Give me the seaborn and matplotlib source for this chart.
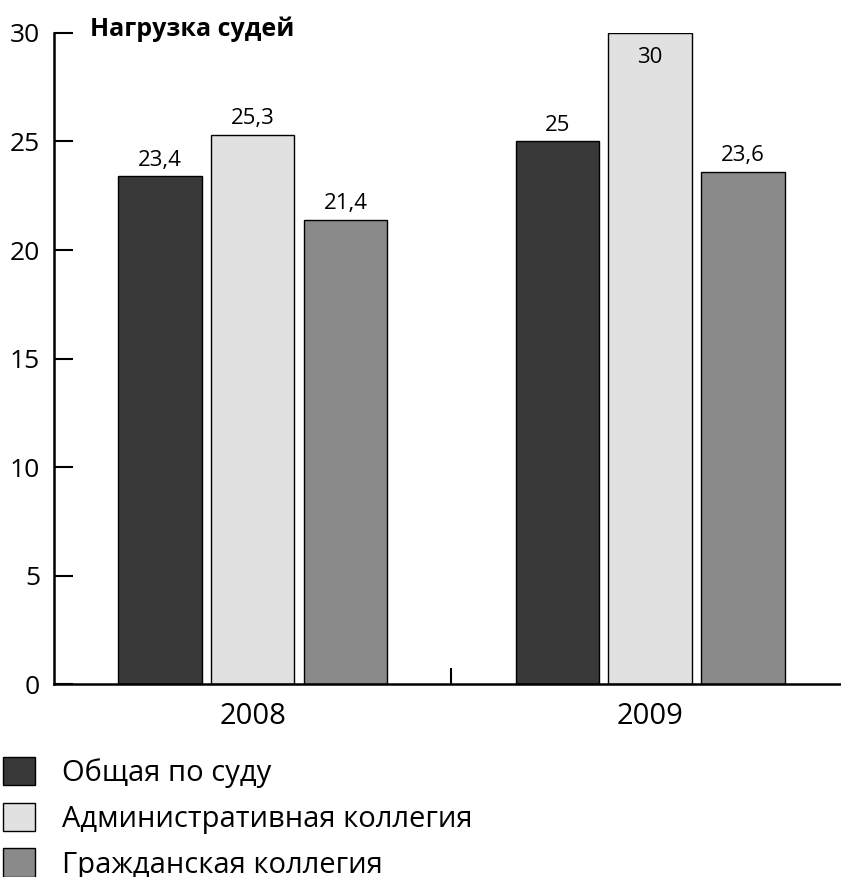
import pandas as pd
import seaborn as sns
from matplotlib import pyplot as plt
from matplotlib.ticker import FixedLocator

years = ["2008", "2009"]
series = ["Общая по суду", "Административная коллегия", "Гражданская коллегия"]
general = [23.4, 25]
admin = [25.3, 30]
civil = [21.4, 23.6]
colors = ["#383838", "#e1e1e1", "#8a8a8a"]

rows = []
for name, vals in zip(series, [general, admin, civil]):
    for y, v in zip(years, vals):
        rows.append({"year": y, "series": name, "value": v})
df = pd.DataFrame(rows)

sns.set_style("white")
plt.rcParams["font.family"] = ["Open Sans", "DejaVu Sans"]
plt.rcParams["text.color"] = "black"

fig = plt.figure(figsize=(8.41, 8.77), dpi=100)
ax = fig.add_axes([0.0642, 0.22, 0.9358, 0.7424])

sns.barplot(data=df, x="year", y="value", hue="series", hue_order=series,
            palette=colors, width=0.70, gap=0.1, edgecolor="black",
            linewidth=1, ax=ax)

ax.set_ylim(0, 30)
ax.set_xlim(-0.5, 1.48)
ax.set_yticks([0, 5, 10, 15, 20, 25, 30])
ax.set_xlabel("")
ax.set_ylabel("")

for s in ["top", "right"]:
    ax.spines[s].set_visible(False)
for s in ["left", "bottom"]:
    ax.spines[s].set_linewidth(1.8)
    ax.spines[s].set_color("black")

ax.tick_params(axis="y", left=True, direction="in", length=14, width=1.5,
               labelsize=19, pad=10, colors="black")
ax.tick_params(axis="x", which="major", bottom=True, length=0, labelsize=21,
               pad=13, labelcolor="black")
ax.xaxis.set_minor_locator(FixedLocator([0.5]))
ax.tick_params(axis="x", which="minor", bottom=True, direction="in",
               length=11.5, width=1.5, color="black")

# value labels
for cont in ax.containers:
    for bar in cont:
        h = bar.get_height()
        txt = f"{h:g}".replace(".", ",")
        x = bar.get_x() + bar.get_width() / 2
        if h >= 30:
            ax.annotate(txt, (x, h), xytext=(0, -10), textcoords="offset points",
                        ha="center", va="top", fontsize=16, color="black")
        else:
            ax.annotate(txt, (x, h), xytext=(0, 4), textcoords="offset points",
                        ha="center", va="bottom", fontsize=16, color="black")

fig.text(0.107, 0.967, "Нагрузка судей", fontsize=18, fontweight="bold",
         ha="left", va="center", color="black")

# legend below the plot
handles, labels = ax.get_legend_handles_labels()
ax.get_legend().remove()
leg = fig.legend(handles, labels, loc="upper left", bbox_to_anchor=(0.003, 0.137),
                 frameon=False, fontsize=21, handlelength=1.1, handleheight=1.13,
                 labelspacing=0.5, handletextpad=0.93, borderaxespad=0,
                 borderpad=0)
for t in leg.get_texts():
    t.set_color("black")

plt.savefig("out.png", dpi=100)
